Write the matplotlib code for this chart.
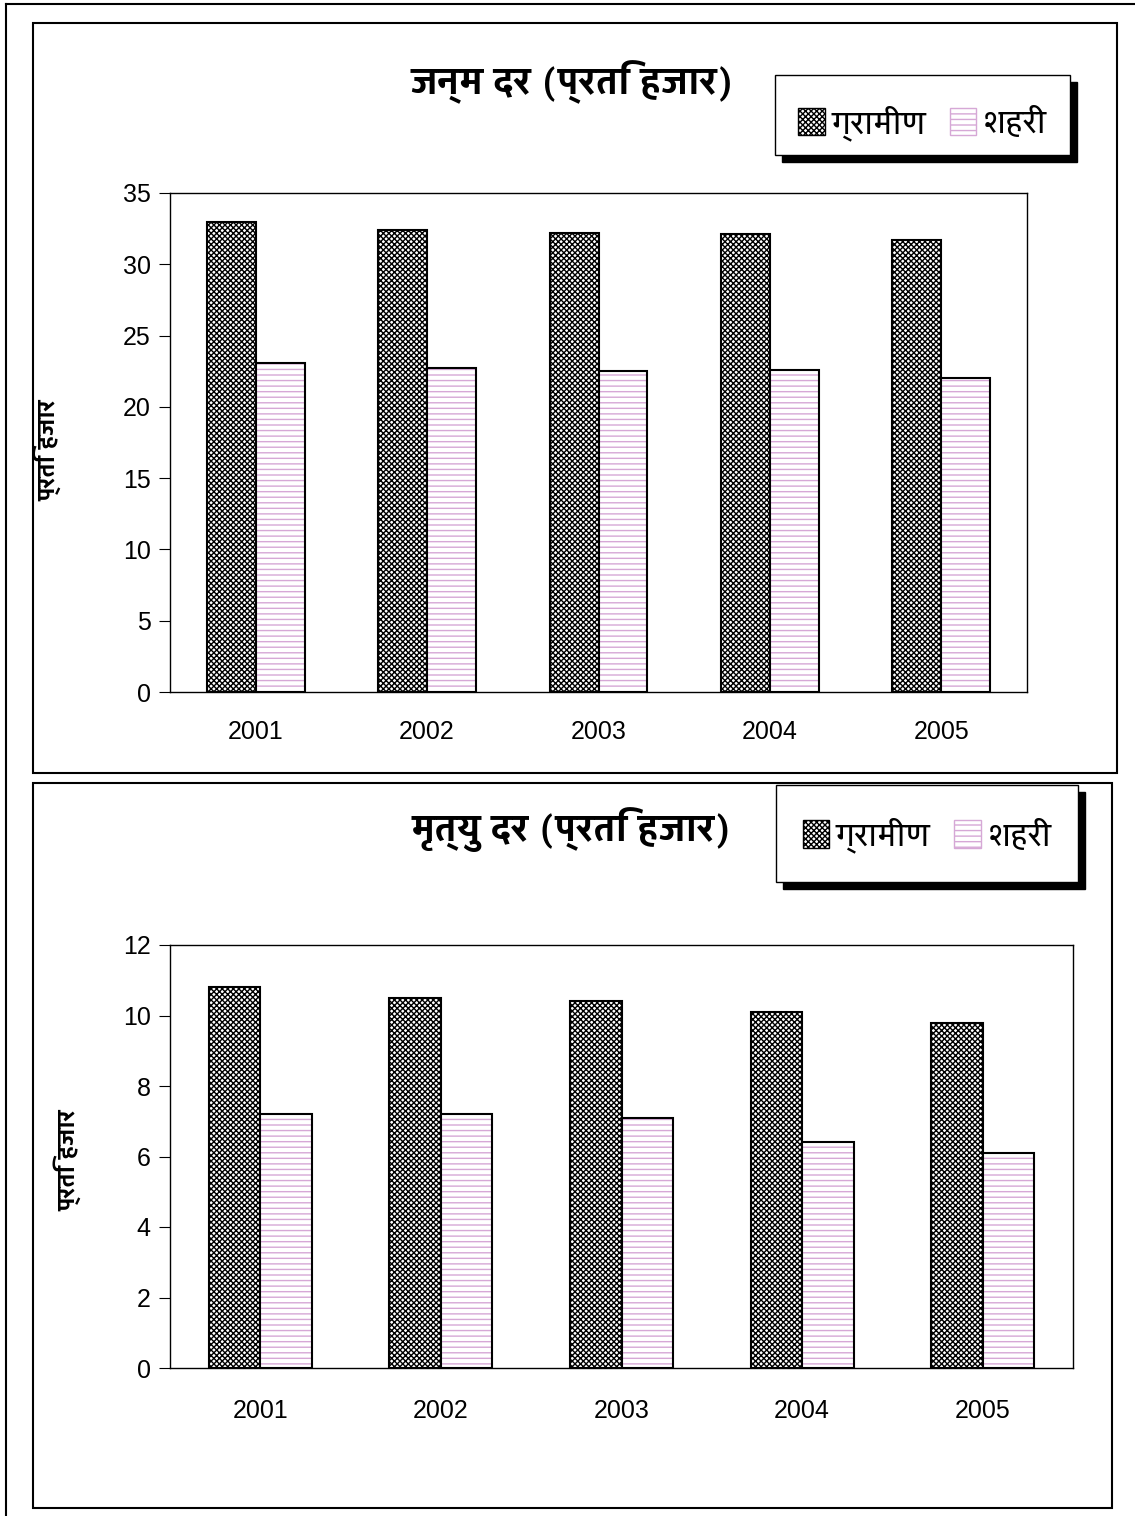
import numpy as np
import matplotlib
matplotlib.use("Agg")
import matplotlib.pyplot as plt
from matplotlib.patches import Rectangle

years = ["2001", "2002", "2003", "2004", "2005"]
birth_rural = [33.0, 32.4, 32.2, 32.1, 31.7]
birth_urban = [23.1, 22.7, 22.5, 22.6, 22.0]
death_rural = [10.8, 10.5, 10.4, 10.1, 9.8]
death_urban = [7.2, 7.2, 7.1, 6.4, 6.1]
labels = ["ग्रामीण", "शहरी"]

W, H = 1135, 1516
DEVA = ['Yantramanav', 'Hind', 'Noto Sans Devanagari', 'Mukta']
plt.rcParams['font.family'] = ['Liberation Sans'] + DEVA + ['DejaVu Sans']
plt.rcParams['hatch.linewidth'] = 1.0

RURAL_HATCH = 'xxxxxx'
URBAN_HATCH = '---'
URBAN_COL = '#d6a8d6'

fig = plt.figure(figsize=(W / 100, H / 100), dpi=100)

def box(x0, y0, x1, y1, **kw):
    r = Rectangle((x0 / W, 1 - y1 / H), (x1 - x0) / W, (y1 - y0) / H,
                  transform=fig.transFigure, **kw)
    fig.add_artist(r)
    return r

def panel(rect, rural, urban, ymax, title, title_y, leg, leg_dy, xpad):
    ax = fig.add_axes(rect)
    x = np.arange(len(years))
    w = 0.2857
    ax.bar(x - w / 2, rural, w, facecolor='white', edgecolor='black',
           hatch=RURAL_HATCH, linewidth=0)
    ax.bar(x - w / 2, rural, w, fill=False, edgecolor='black', linewidth=1.5)
    ax.bar(x + w / 2, urban, w, facecolor='white', edgecolor=URBAN_COL,
           hatch=URBAN_HATCH, linewidth=0)
    ax.bar(x + w / 2, urban, w, fill=False, edgecolor='black', linewidth=1.5)
    ax.set_xlim(-0.5, len(years) - 0.5)
    ax.set_ylim(0, ymax)
    ax.set_xticks(x)
    ax.set_xticklabels(years)
    ax.tick_params(axis='x', length=0, pad=xpad, labelsize=18)
    ax.tick_params(axis='y', length=8, pad=6, labelsize=18)
    for s in ax.spines.values():
        s.set_color('black')
        s.set_linewidth(1)
    fig.text(572 / W, 1 - title_y / H, title, ha='center', va='center',
             fontsize=28, fontweight='bold', family=DEVA + ['Liberation Sans', 'DejaVu Sans'])
    # legend frame with black shadow
    x0, y0, x1, y1 = leg
    box(x0 + 7, y0 + 7, x1 + 7, y1 + 7, facecolor='black', edgecolor='black')
    box(x0, y0, x1, y1, facecolor='white', edgecolor='black', linewidth=1)
    h1 = Rectangle((0, 0), 1, 1, facecolor='white', edgecolor='black', hatch=RURAL_HATCH, linewidth=1)
    h2 = Rectangle((0, 0), 1, 1, facecolor='white', edgecolor=URBAN_COL, hatch=URBAN_HATCH, linewidth=1)
    fig.legend([h1, h2], labels, loc='center', ncol=2, frameon=False,
               bbox_to_anchor=((x0 + x1) / 2 / W, 1 - ((y0 + y1) / 2 + leg_dy) / H),
               prop={'family': DEVA + ['DejaVu Sans'], 'size': 24},
               handlelength=0.8, handleheight=0.9,
               handletextpad=0.2, columnspacing=0.7)
    return ax

ax1 = panel([170 / W, 1 - 692 / H, (1027 - 170) / W, (692 - 193) / H],
            birth_rural, birth_urban, 35, "जन्म दर (प्रति हजार)", 82,
            (775, 75, 1070, 155), 8, 20)
ax1.set_yticks(range(0, 36, 5))
fig.text(47 / W, 1 - 450 / H, "प्रति हजार", rotation=90, ha='center', va='center',
         fontsize=18, fontweight='bold', family=DEVA + ['DejaVu Sans'])

ax2 = panel([170 / W, 1 - 1368 / H, (1073 - 170) / W, (1368 - 945) / H],
            death_rural, death_urban, 12, "मृत्यु दर (प्रति हजार)", 830,
            (776, 785, 1078, 882), 2, 22)
ax2.set_yticks(range(0, 13, 2))
fig.text(67 / W, 1 - 1160 / H, "प्रति हजार", rotation=90, ha='center', va='center',
         fontsize=18, fontweight='bold', family=DEVA + ['DejaVu Sans'])

# panel borders and page border
box(33, 23, 1117, 773, fill=False, edgecolor='black', linewidth=1.5)
box(33, 783, 1112, 1508, fill=False, edgecolor='black', linewidth=1.5)
fig.add_artist(plt.Line2D([6 / W, 6 / W], [0, 1 - 4 / H], transform=fig.transFigure, color='black', lw=1.5))
fig.add_artist(plt.Line2D([6 / W, 1], [1 - 4 / H, 1 - 4 / H], transform=fig.transFigure, color='black', lw=1.5))

fig.savefig("out.png", dpi=100)
